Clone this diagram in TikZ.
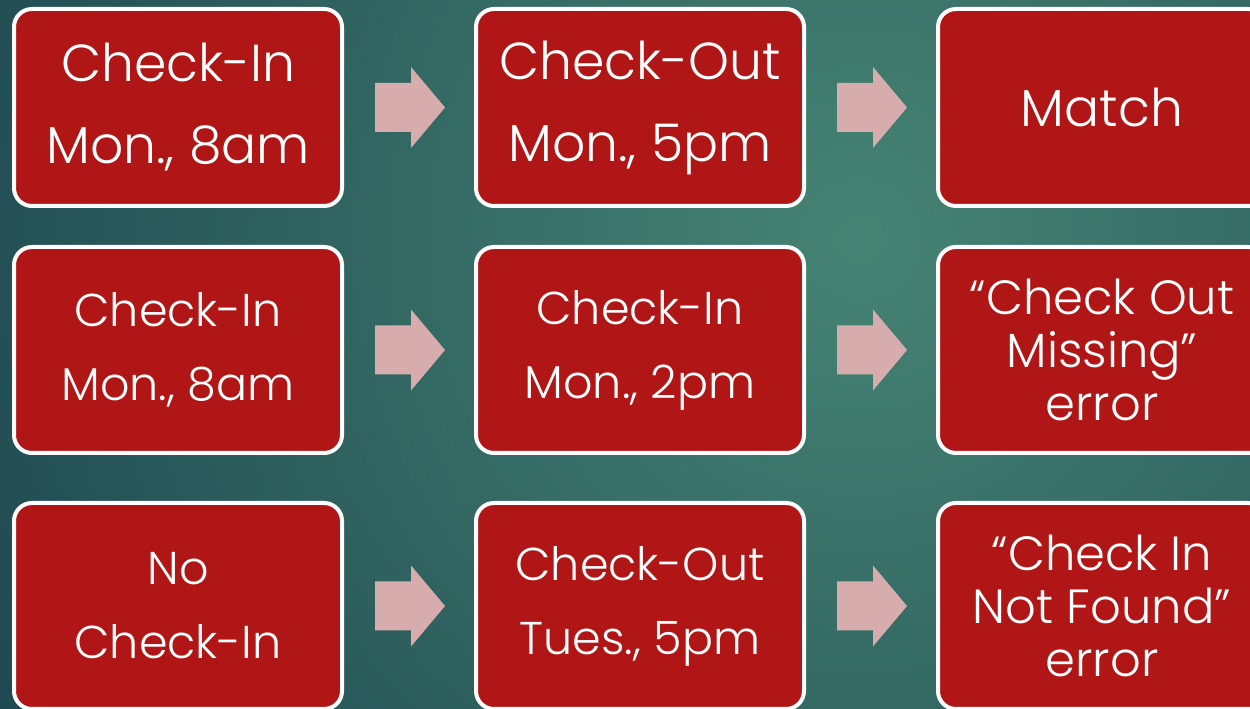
\documentclass[tikz,border=0pt]{standalone}
\usepackage{fontspec}
\setmainfont{Poppins}[UprightFont={* Light}]
\usetikzlibrary{calc}
\definecolor{boxred}{RGB}{176,22,21}
\definecolor{arrowpink}{RGB}{215,172,172}
\definecolor{bgin}{RGB}{70,132,116}
\definecolor{bgout}{RGB}{30,72,80}
\tikzset{
  card/.style={draw=white, line width=4pt, fill=boxred, rounded corners=18pt,
    minimum width=328pt, text=white, align=center, inner sep=0pt},
  rowone/.style={minimum height=197pt},
  rowtwo/.style={minimum height=206pt},
  bigtext/.style={font=\fontsize{52}{82}\selectfont},
  midtext/.style={font=\fontsize{46}{74}\selectfont},
  tighttext/.style={font=\fontsize{48}{53}\selectfont},
  arrowshape/.style={fill=arrowpink, draw=none},
}
\newcommand\blockarrow[2]{%
  \coordinate (#1-#2-mid) at ($(#1.east)!0.5!(#2.west)$);
  \fill[arrowshape] ($(#1-#2-mid)+(-34,24.5)$) -- ($(#1-#2-mid)+(2,24.5)$)
    -- ($(#1-#2-mid)+(2,40.5)$) -- ($(#1-#2-mid)+(36,0)$)
    -- ($(#1-#2-mid)+(2,-40.5)$) -- ($(#1-#2-mid)+(2,-24.5)$)
    -- ($(#1-#2-mid)+(-34,-24.5)$) -- cycle;
}
\begin{document}
\begin{tikzpicture}[x=1pt,y=1pt]
  \useasboundingbox (0,0) rectangle (1250,709);
  \begin{scope}
    \clip (0,0) rectangle (1250,709);
    \shade[inner color=bgin, outer color=bgout] (860,470) circle (1000);
  \end{scope}
  % row 1
  \node[card, rowone, bigtext] (r1c1) at (178,601.5) {Check-In\\Mon., 8am};
  \node[card, rowone, bigtext] (r1c2) at (640,601.5) {Check-Out\\Mon., 5pm};
  \node[card, rowone, bigtext] (r1c3) at (1102,601.5) {Match};
  % row 2
  \node[card, rowtwo, midtext] (r2c1) at (178,359) {Check-In\\Mon., 8am};
  \node[card, rowtwo, midtext] (r2c2) at (640,359) {Check-In\\Mon., 2pm};
  \node[card, rowtwo, tighttext] (r2c3) at (1102,359) {“Check Out\\Missing”\\error};
  % row 3
  \node[card, rowtwo, midtext] (r3c1) at (178,103) {No\\Check-In};
  \node[card, rowtwo, midtext] (r3c2) at (640,103) {Check-Out\\Tues., 5pm};
  \node[card, rowtwo, tighttext] (r3c3) at (1102,103) {“Check In\\Not Found”\\error};
  % arrows
  \blockarrow{r1c1}{r1c2}
  \blockarrow{r1c2}{r1c3}
  \blockarrow{r2c1}{r2c2}
  \blockarrow{r2c2}{r2c3}
  \blockarrow{r3c1}{r3c2}
  \blockarrow{r3c2}{r3c3}
\end{tikzpicture}
\end{document}
